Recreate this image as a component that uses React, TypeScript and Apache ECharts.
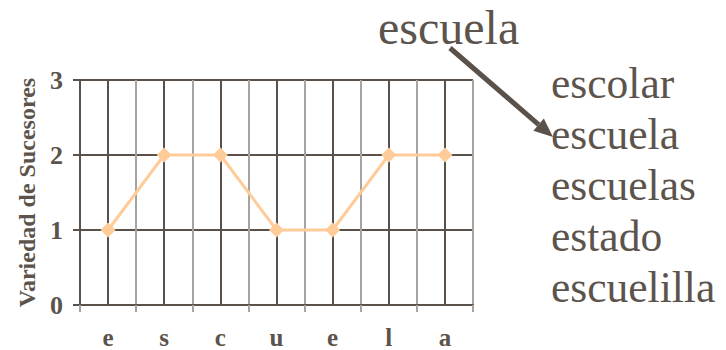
import React, { useEffect, useRef } from "react";
import * as echarts from "echarts";

// Letters of the word, one category each, and the successor variety per prefix
const letters = ["e", "s", "c", "u", "e", "l", "a"];
const successorVariety = [1, 2, 2, 1, 1, 2, 2];
const yTicks = [0, 1, 2, 3];

// Word shown above the chart and the candidate list on the right
const headWord = "escuela";
const candidateWords = ["escolar", "escuela", "escuelas", "estado", "escuelilla"];

const DARK = "#59514a";
const LIGHT = "#a7a39f";
const TEXT = "#5c544c";
const PEACH = "#ffcc99";
const SERIF = "'Liberation Serif', 'Times New Roman', serif";

export default function App() {
  const ref = useRef<HTMLDivElement>(null);

  useEffect(() => {
    if (!ref.current) return;
    const chart = echarts.init(ref.current, null, { renderer: "svg" });

    // arrow from the head word to its entry in the list
    const start = [450, 48];
    const tip = [553, 137];
    const dx = tip[0] - start[0];
    const dy = tip[1] - start[1];
    const len = Math.hypot(dx, dy);
    const ux = dx / len;
    const uy = dy / len;
    const headLen = 19;
    const headHalf = 8;
    const bx = tip[0] - ux * headLen;
    const by = tip[1] - uy * headLen;

    chart.setOption({
      animation: false,
      backgroundColor: "#ffffff",
      grid: { left: 80, right: 253, top: 80, bottom: 43 },
      xAxis: {
        type: "category",
        data: letters,
        boundaryGap: true,
        axisLine: { show: true, lineStyle: { color: DARK, width: 2 } },
        axisTick: { show: true, length: 7, lineStyle: { color: LIGHT, width: 2 } },
        splitLine: { show: true, lineStyle: { color: LIGHT, width: 2 } },
        axisLabel: {
          color: TEXT,
          fontFamily: SERIF,
          fontWeight: "bold",
          fontSize: 25,
          margin: 20,
        },
      },
      yAxis: {
        type: "value",
        min: yTicks[0],
        max: yTicks[yTicks.length - 1],
        interval: 1,
        name: "Variedad de Sucesores",
        nameLocation: "middle",
        nameRotate: 90,
        nameGap: 39,
        nameTextStyle: {
          color: TEXT,
          fontFamily: SERIF,
          fontWeight: "bold",
          fontSize: 24,
        },
        axisLine: { show: true, lineStyle: { color: DARK, width: 2 } },
        axisTick: { show: true, length: 7, lineStyle: { color: DARK, width: 2 } },
        splitLine: { show: true, lineStyle: { color: DARK, width: 2 } },
        axisLabel: {
          color: TEXT,
          fontFamily: SERIF,
          fontWeight: "bold",
          fontSize: 26,
          margin: 17,
        },
      },
      series: [
        {
          type: "line",
          data: successorVariety,
          symbol: "diamond",
          symbolSize: 15,
          lineStyle: { color: PEACH, width: 3 },
          itemStyle: { color: PEACH },
          z: 3,
          markLine: {
            silent: true,
            symbol: "none",
            z: 1,
            label: { show: false },
            emphasis: { disabled: true },
            lineStyle: { color: DARK, width: 2, type: "solid" },
            data: letters.map((_, i) => ({ xAxis: i })),
          },
        },
      ],
      graphic: [
        {
          type: "text",
          left: 378,
          top: 3,
          style: {
            text: headWord,
            font: `48px ${SERIF}`,
            fill: TEXT,
          },
        },
        ...candidateWords.map((w, i) => ({
          type: "text",
          left: 551,
          top: 61 + i * 51,
          style: {
            text: w,
            font: `43.5px ${SERIF}`,
            fill: TEXT,
          },
        })),
        {
          type: "line",
          shape: { x1: start[0], y1: start[1], x2: bx, y2: by },
          style: { stroke: DARK, lineWidth: 5 },
        },
        {
          type: "polygon",
          shape: {
            points: [
              [tip[0], tip[1]],
              [bx - uy * headHalf, by + ux * headHalf],
              [bx + uy * headHalf, by - ux * headHalf],
            ],
          },
          style: { fill: DARK },
        },
      ],
    });

    return () => chart.dispose();
  }, []);

  return (
    <div
      ref={ref}
      style={{ position: "fixed", left: 0, top: 0, width: 726, height: 350 }}
    />
  );
}
